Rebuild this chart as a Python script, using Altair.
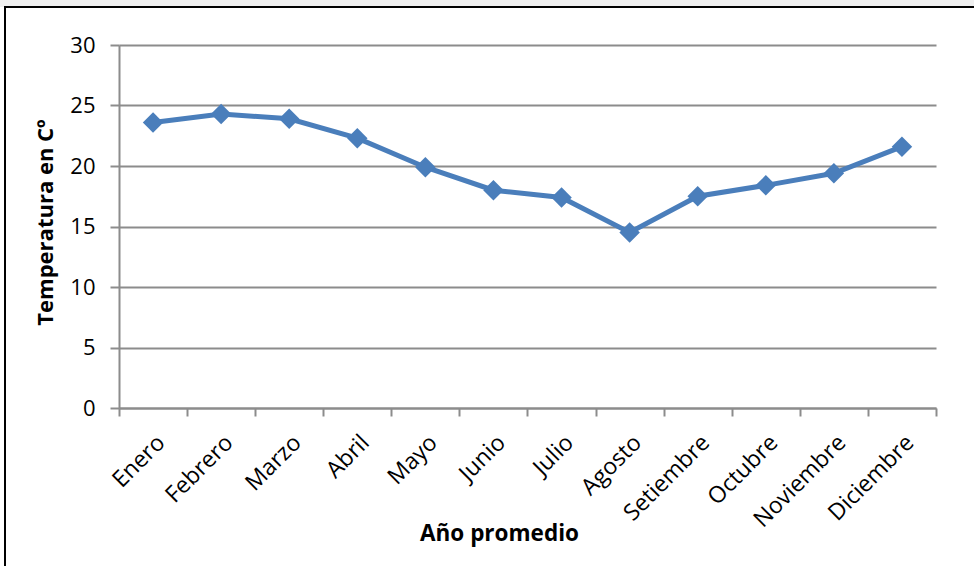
import altair as alt
import pandas as pd

months = ["Enero", "Febrero", "Marzo", "Abril", "Mayo", "Junio", "Julio",
          "Agosto", "Setiembre", "Octubre", "Noviembre", "Diciembre"]
temps = [23.6, 24.3, 23.9, 22.3, 19.9, 18.0, 17.4, 14.5, 17.5, 18.4, 19.4, 21.6]

df = pd.DataFrame({"Mes": months, "Temp": temps})

FONT = "Open Sans"
BLUE = "#4A7EBB"
GRID = "#8C8C8C"

x_enc = alt.X("Mes:N", sort=months, bandPosition=0.5,
              scale=alt.Scale(type="band", paddingInner=0, paddingOuter=0),
              axis=alt.Axis(title="Año promedio", labelAngle=-45, labelAlign="right",
                            labelBaseline="top", labelPadding=15, tickBand="extent",
                            tickSize=8, tickColor=GRID, tickWidth=2,
                            domainColor=GRID, domainWidth=2, grid=False,
                            labelFont=FONT, labelFontSize=23, labelColor="black",
                            titleFont=FONT, titleFontSize=22.5, titleFontWeight="bold",
                            titleColor="black", titleX=380, titleY=125,
                            titleBaseline="middle", titleAnchor="start", titleAlign="center"))
y_enc = alt.Y("Temp:Q", scale=alt.Scale(domain=[0, 30], nice=False, zero=True),
              axis=alt.Axis(title="Temperatura en Cº", values=[0, 5, 10, 15, 20, 25, 30],
                            tickSize=9, tickColor=GRID, tickWidth=2,
                            domainColor=GRID, domainWidth=2,
                            grid=True, gridColor=GRID, gridWidth=2,
                            labelPadding=15, labelFont=FONT, labelFontSize=22,
                            labelColor="black",
                            titleFont=FONT, titleFontSize=22, titleFontWeight="bold",
                            titleColor="black", titleX=-74, titleY=177,
                            titleAngle=-90, titleBaseline="middle", titleAlign="center",
                            titleAnchor="start"))

line = alt.Chart(df).mark_line(color=BLUE, strokeWidth=5).encode(x=x_enc, y=y_enc)
pts = alt.Chart(df).mark_point(shape="diamond", filled=True, color=BLUE, size=420,
                               opacity=1).encode(x=alt.X("Mes:N", sort=months, bandPosition=0.5),
                                                 y="Temp:Q")

shade = alt.Chart(df).mark_rect(color="#EFEFEF", clip=False).encode(
    x=alt.value(-119), x2=alt.value(860), y=alt.value(-45), y2=alt.value(-38))
border = alt.Chart(df).mark_rect(fill=None, stroke="black", strokeWidth=2, clip=False).encode(
    x=alt.value(-114), x2=alt.value(860), y=alt.value(-38), y2=alt.value(530))

chart = alt.layer(shade, border, line, pts).properties(
    width=817, height=363,
    autosize=alt.AutoSizeParams(type="none"),
    padding={"left": 119, "top": 45, "right": 38, "bottom": 158},
    background="white",
).configure_view(stroke=None)

chart.save("out.html", embed_options={"renderer": "svg", "actions": False})
